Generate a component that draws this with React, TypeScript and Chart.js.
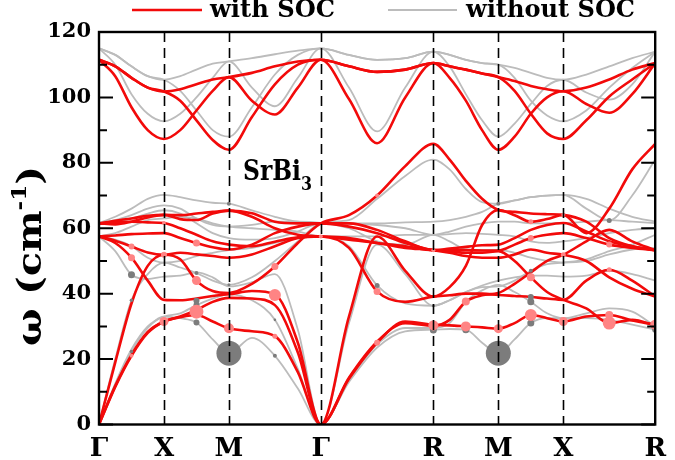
import React, { useEffect, useRef } from 'react';
import { Chart, registerables } from 'chart.js';
Chart.register(...registerables);

// High-symmetry path
const symLabels = ['Γ', 'X', 'M', 'Γ', 'R', 'M', 'X', 'R'];
const segLengths = [1, 1, Math.SQRT2, Math.sqrt(3), 1, 1, Math.SQRT2];
const fracs = [0, 0.25, 0.5, 0.75];
const symK: number[] = segLengths.reduce((acc: number[], L) => [...acc, acc[acc.length - 1] + L], [0]);
const kGrid: number[] = [];
segLengths.forEach((L, s) => fracs.forEach((f) => kGrid.push(symK[s] + f * L)));
kGrid.push(symK[symK.length - 1]);

// index: Γ a b c X a b c M a b c Γ a b c R a b c M a b c X a b c R
// ---- with SOC (red) ----
const socTop1 = [111.5,109.5,106,103,101.8, 102.5,104,105.5,106.2, 107.5,109.5,111,111.5, 109.5,107.8,108.5,110.5, 109.5,108.5,107.3,106.2, 105,103.5,102.5,101.9, 103,105.5,108.5,110.5];
const socTop2 = [111.5,106.5,97,90,87.3, 90,96,102,106.2, 99,94.8,103,111.5, 99.5,86,100,110.5, 106,99,90,84, 88,95,100,101.9, 98,95.3,101,110.5];
const socTop3 = [111.5,109.5,106,103,101.8, 99,93,87,84, 94,104,110,111.5, 109.5,107.8,108.5,110.5, 109.5,108.5,107.3,106.2, 102,95,89,87.3, 93,100.3,105.5,110.5];
const soc1 = [0,11.5,21,28,31.5, 32.8,33.5,31.5,29.4, 28.5,27,16,0, 14,25,31.5,30.5, 30.3,30,29.7,29.3, 31,33.5,32.5,31.5, 33,33.5,31.8,30.5];
const soc2 = [0,11.8,21.3,28.3,31.5, 33,35,37.5,38.7, 38.5,36.5,22,0, 33,57.5,47,39.1, 42,48.5,61,65.6, 64,62,62.8,64.1, 58.5,66,78,85.8];
const soc3 = [0,19,37,48.5,51.9, 50.5,44,40.8,40.2, 43,48.3,55.5,61.5, 64,70,79,85.8, 81,74.5,69,65.6, 65,64.5,64.3,64.1, 62,57,54.5,53.3];
const soc4 = [57.5,55.5,51,44,38.1, 38,38.5,39.3,39.8, 40.8,39.8,25,0, 14.3,25.3,31,30.2, 32,37.6,39.5,40.2, 43,46.5,50,51.9, 56,59.5,56,53.3];
const soc5 = [57.5,56.2,54.4,52.6,51.9, 52.5,52,51.5,51, 52,54.5,57,57.5, 54,40.7,37.5,39.1, 39.5,40,40,39.6, 39.3,39,38.5,38.1, 44,47.3,44,39.1];
const soc6 = [61.5,61.8,62,61.8,61.6, 60,58,56,55, 54.5,55.9,57.2,57.5, 56.5,55.5,54,53.3, 52.5,51.5,51,51, 52,53.5,52.5,51.9, 50,45,41.5,39.1];
const soc7 = [57.5,57.8,58.2,58.4,58.5, 57,55.5,54.2,53.5, 55,58.5,60.5,61.5, 60.5,58.5,55.5,53.3, 53,52.5,52.5,53, 50,45,40.5,38.1, 35.5,31,32,30.3];
const soc8 = [61.5,61.2,62,63.3,64.1, 62.8,62.5,64.5,65.4, 64.6,62,61.5,61.5, 61.5,59.5,56,53.3, 53.8,54.3,54.8,55, 57,59.5,61,61.6, 59,56,54.5,53.3];
const soc9 = [61.5,62.3,63,63.8,64.1, 64,64.5,65,65.4, 63.5,60,58,57.5, 57,55.5,54.5,53.3, 53.3,53.3,53.2,53.2, 55,57,58,58.5, 57,55,54,53.3];

// ---- without SOC (gray) ----
const noTop1 = [115,113,109.5,106.5,105.4, 106.5,108.5,110.3,111, 112,113.2,114.3,115, 113,111.5,112,114, 113,111.5,110.5,110, 109,107.5,106,105.4, 107,109.5,112,114];
const noTop2 = [115,110,101,95,92.7, 95,100,106,111, 103,97.3,106,115, 103,89.6,103,114, 109.5,101,93,88, 92,98,103.5,105.4, 101.5,99.3,104,114];
const noTop3 = [115,113,109.5,106.5,105.4, 102,96,90,88, 97,107,113,115, 113,111.5,112,114, 113,111.5,110.5,110, 106,99,94.5,92.7, 96,103,109,114];
const no1 = [0,12,22.3,29.5,33, 32.5,31.2,26,21.8, 26.5,21,11,0, 13,23.5,28.5,29, 29.2,29,25,21.8, 26,31,32.5,32.5, 32.5,32,30.5,29];
const no2 = [0,12.5,23,30,33, 34,36.5,38.5,39.8, 38,32,17,0, 13.5,24.5,29.5,29.5, 31,37.5,41,42.7, 40.5,37.5,34,32.5, 34,35.5,34.5,30];
const no3 = [0,20,38,46,49.5, 48,46.3,44,42.7, 45,50,56,61.6, 62.5,69,76,81, 78,72,68,67.5, 68.5,69.5,70,70.2, 66,62.4,70,81];
const no4 = [57.5,53,45.8,44.5,45.2, 45.5,46.5,45,42.2, 43.5,46,29,0, 31,55,46,36.3, 38,40.5,42,42.2, 44,47,49,49.5, 50.5,53,55,58];
const no5 = [57.5,56.5,54.5,51,49.5, 50,51.5,52.5,53.3, 54,55.5,57,57.5, 54.5,42.5,37,36.3, 38,40.5,42.5,44, 45,45.5,45.5,45.2, 45.5,47,46,44];
const no6 = [61.6,62,63,64.5,65.5, 64.5,61.5,58.5,57, 56.5,57,59,61.6, 61.5,61,60,58, 58.2,58.5,58.3,58, 57.5,56,55.5,56, 57,58.5,59.5,60];
const no7 = [57.5,58.5,60.5,62.5,63, 63.5,63,61.5,60.5, 60,59.5,59,57.5, 57.5,57.5,58,58, 59,60.5,61.5,62, 62,61.5,61.5,61.6, 62,62.5,62,61.6];
const no8 = [61.6,63.5,66,69,70.2, 69.5,68.5,67.8,67.5, 65.5,63.5,62,61.6, 61.5,61.5,61.8,62, 62.5,63.5,65,67.5, 68.5,69.5,70,70.2, 69,66,63.5,62];
const no9 = [61.6,62.5,64,66,67, 66,63,61,60.5, 61,62,62,61.6, 60,56,55,58, 56,53.5,53.3,53.3, 52.5,51,50,49.5, 50,52,53.5,54];

const socBands = [socTop1, socTop2, socTop3, soc1, soc2, soc3, soc4, soc5, soc6, soc7, soc8, soc9];
const noBands = [noTop1, noTop2, noTop3, no1, no2, no3, no4, no5, no6, no7, no8, no9];

// coupling markers (k along path, frequency, radius)
const pinkK = [0.5,0.5,0.5, 1,1,1, 1.5,1.5,1.5, 2, 2.707,2.707,2.707, 3.414, 4.28,4.28,4.28, 5.146,5.146, 5.646,5.646, 6.146, 6.646,6.646,6.646,6.646, 7.146,7.146,7.146, 7.853,7.853,7.853,7.853, 8.56];
const pinkW = [54.4,51,21, 51.9,31.5,61.6, 55.5,44,34.5, 29.4, 48.3,39.6,27, 57.5, 70,40.7,25, 30.3,53.3, 37.6,30, 29.3, 33.5,45,57,62, 31.5,51.9,64.1, 31,33.5,55,47.3, 30.5];
const pinkR = [3,3.5,2, 3,4.5,2, 3.5,4.5,7, 5, 3.5,6,2.5, 2, 2,3.5,3, 5,2, 4,5, 4.5, 6,4,3,2.5, 4.5,2.5,2, 6.5,4,3,2.5, 5];
const grayK = [2, 6.146, 0.5,0.5,0.5, 1.5,1.5,1.5,1.5, 2,2, 2.707,2.707, 4.28, 5.146,5.146, 5.646, 6.646,6.646,6.646,6.646, 6.146, 7.853,7.853, 8.56];
const grayW = [21.8, 21.8, 45.8,38,22.3, 37.8,36.5,31.2,46.3, 67.5,42.7, 21,32, 42.5, 28.9,36.3, 29, 31,37.5,39,47, 67.5, 62.4,32, 29];
const grayR = [12.5, 12.5, 3.5,1.8,1.8, 3,3,3,2, 2,1.5, 2,1.3, 2.5, 3.5,1.5, 3.5, 3.5,3.5,3,2, 2, 2.5,3, 3];

const RED = '#f20a0a';
const GRAY = '#bcbcbc';
const FONT = '"DejaVu Serif", serif';

const overlay = {
  id: 'overlay',
  afterDatasetsDraw(chart: any) {
    const { ctx, chartArea: a, scales } = chart;
    const xs = scales.x, ys = scales.y;
    ctx.save();
    ctx.strokeStyle = '#000';
    ctx.lineWidth = 1.6;
    ctx.setLineDash([10, 6]);
    symK.slice(1, -1).forEach((k) => {
      const px = Math.round(xs.getPixelForValue(k)) + 0.5;
      ctx.beginPath();
      ctx.moveTo(px, a.top);
      ctx.lineTo(px, a.bottom);
      ctx.stroke();
    });
    ctx.setLineDash([]);
    ctx.lineWidth = 2;
    for (let v = 0; v <= 120; v += 10) {
      const py = ys.getPixelForValue(v);
      const len = v % 20 === 0 ? 14 : 8;
      ctx.beginPath();
      ctx.moveTo(a.left, py);
      ctx.lineTo(a.left + len, py);
      ctx.moveTo(a.right, py);
      ctx.lineTo(a.right - len, py);
      ctx.stroke();
    }
    ctx.lineWidth = 2.4;
    ctx.strokeRect(a.left, a.top, a.right - a.left, a.bottom - a.top);
    ctx.restore();
  },
  afterDraw(chart: any) {
    const { ctx } = chart;
    ctx.save();
    ctx.fillStyle = '#000';
    ctx.textBaseline = 'alphabetic';
    // legend
    ctx.lineWidth = 2.6;
    ctx.strokeStyle = RED;
    ctx.beginPath(); ctx.moveTo(132, 10); ctx.lineTo(202, 10); ctx.stroke();
    ctx.lineWidth = 2;
    ctx.strokeStyle = GRAY;
    ctx.beginPath(); ctx.moveTo(388, 10); ctx.lineTo(457, 10); ctx.stroke();
    const fit = (t: string, x: number, y: number, font: string, w: number) => {
      ctx.font = font;
      const m = ctx.measureText(t).width;
      ctx.save(); ctx.translate(x, y); ctx.scale(w / m, 1); ctx.fillText(t, 0, 0); ctx.restore();
    };
    fit('with SOC', 210, 17, 'bold 24px ' + FONT, 125);
    fit('without SOC', 466, 17, 'bold 24px ' + FONT, 169);
    // material label
    fit('SrBi', 243, 180, 'bold 28px ' + FONT, 58);
    fit('3', 301, 190, 'bold 19px ' + FONT, 11);
    // y title
    ctx.translate(41, 256);
    ctx.rotate(-Math.PI / 2);
    const mainF = 'bold 34px ' + FONT;
    const supF = 'bold 20px ' + FONT;
    ctx.font = mainF;
    const w1 = ctx.measureText('ω (cm').width;
    const w3 = ctx.measureText(')').width;
    ctx.font = supF;
    const w2 = ctx.measureText('-1').width;
    const total = w1 + w2 + w3;
    ctx.scale(180 / total, 1);
    let cx = -total / 2;
    ctx.font = mainF; ctx.fillText('ω (cm', cx, 0); cx += w1;
    ctx.font = supF; ctx.fillText('-1', cx, -15); cx += w2;
    ctx.font = mainF; ctx.fillText(')', cx, 0);
    ctx.restore();
  },
};

export default function App() {
  const ref = useRef<HTMLCanvasElement | null>(null);
  useEffect(() => {
    if (!ref.current) return;
    const lineDs = (b: number[], color: string, width: number, order: number) => ({
      type: 'line' as const,
      data: b.map((v, i) => ({ x: kGrid[i], y: v })),
      borderColor: color,
      borderWidth: width,
      pointRadius: 0,
      fill: false,
      cubicInterpolationMode: 'monotone' as const,
      order,
    });
    const datasets: any[] = [
      ...noBands.map((b) => lineDs(b, GRAY, 1.8, 3)),
      ...socBands.map((b) => lineDs(b, RED, 2.6, 2)),
      {
        type: 'scatter', data: grayK.map((k, i) => ({ x: k, y: grayW[i] })),
        pointRadius: grayR, pointHoverRadius: grayR, backgroundColor: '#7c7c7c', borderWidth: 0, order: 1,
      },
      {
        type: 'scatter', data: pinkK.map((k, i) => ({ x: k, y: pinkW[i] })),
        pointRadius: pinkR, pointHoverRadius: pinkR, backgroundColor: '#ff8484', borderWidth: 0, order: 0,
      },
    ];
    const chart = new Chart(ref.current, {
      type: 'line',
      data: { datasets },
      options: {
        animation: false,
        responsive: false,
        layout: { padding: { left: 0, right: 9, top: 32, bottom: 0 } },
        plugins: { legend: { display: false }, tooltip: { enabled: false } },
        scales: {
          x: {
            type: 'linear', min: 0, max: symK[symK.length - 1],
            afterBuildTicks: (s: any) => { s.ticks = symK.map((v) => ({ value: v })); },
            afterFit: (s: any) => { s.height = 35.5; },
            ticks: {
              autoSkip: false, maxRotation: 0, padding: 9, color: '#000',
              font: { family: FONT, size: 26, weight: 'bold' },
              callback: (_v: any, i: number) => symLabels[i],
            },
            grid: { display: false, drawTicks: false },
            border: { display: false },
          },
          y: {
            min: 0, max: 120,
            afterFit: (s: any) => { s.width = 99; },
            ticks: { stepSize: 20, padding: 8, color: '#000', font: { family: FONT, size: 21, weight: 'bold' } },
            grid: { display: false, drawTicks: false },
            border: { display: false },
          },
        },
      },
      plugins: [overlay],
    } as any);
    return () => chart.destroy();
  }, []);
  return (
    <div style={{ position: 'fixed', left: 0, top: 0, width: 675, height: 460, background: '#fff' }}>
      <canvas ref={ref} width={675} height={460} style={{ display: 'block' }} />
    </div>
  );
}
